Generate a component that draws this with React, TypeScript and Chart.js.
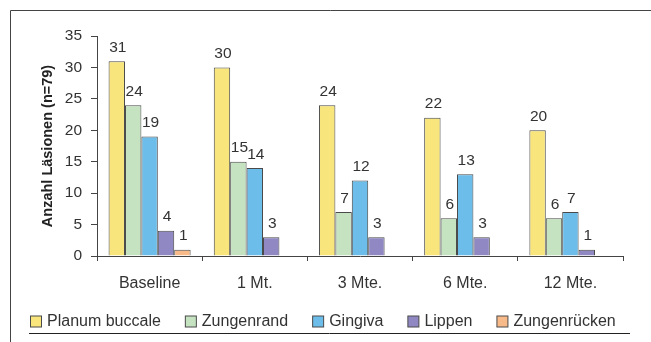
import React, { useEffect, useRef } from "react";
import { Chart, registerables } from "chart.js";

Chart.register(...registerables);

// Lesion counts per follow-up visit
const categories = ["Baseline", "1 Mt.", "3 Mte.", "6 Mte.", "12 Mte."];
const planumBuccale = [31, 30, 24, 22, 20];
const zungenrand = [24, 15, 7, 6, 6];
const gingiva = [19, 14, 12, 13, 7];
const lippen = [4, 3, 3, 3, 1];
const zungenruecken = [1, 0, 0, 0, 0];

const seriesNames = ["Planum buccale", "Zungenrand", "Gingiva", "Lippen", "Zungenrücken"];
const seriesColors = ["#F8E67C", "#C5E3C1", "#6CBDE9", "#9088C3", "#F9BA8A"];

const yMax = 35;
const yStep = 5;
const yTitle = "Anzahl Läsionen (n=79)";

const FONT = "'Liberation Sans', Arial, Helvetica, sans-serif";
const TEXT = "#333";
const LINE = "#444";
const EDGE = "#4a4a4a";

// empty counts get no bar and no label
const toBars = (values: number[]) => values.map((v) => (v === 0 ? null : v));

const framePlugin = {
  id: "frame",
  beforeDraw(chart: any) {
    const { ctx, width, height } = chart;
    ctx.save();
    ctx.fillStyle = "#fff";
    ctx.fillRect(0, 0, width, height);
    ctx.strokeStyle = LINE;
    ctx.lineWidth = 1;
    ctx.beginPath();
    ctx.moveTo(10.5, height);
    ctx.lineTo(10.5, 10.5);
    ctx.lineTo(width, 10.5);
    ctx.stroke();
    ctx.restore();
  },
};

// one-row legend under the axis, with a rule beneath it
const legendRow = {
  id: "legendRow",
  afterDraw(chart: any) {
    const { ctx } = chart;
    const box = 11;
    const textGap = 6;
    const itemGap = 24;
    const centerX = 323;
    const boxTop = 315.5;
    ctx.save();
    ctx.font = `16px ${FONT}`;
    const items = chart.data.datasets.map((ds: any) => ({
      text: ds.label,
      fill: ds.backgroundColor,
      w: ctx.measureText(ds.label).width,
    }));
    const total =
      items.reduce((s: number, it: any) => s + box + textGap + it.w, 0) + itemGap * (items.length - 1);
    let x = Math.round(centerX - total / 2);
    ctx.textBaseline = "middle";
    ctx.textAlign = "left";
    items.forEach((it: any) => {
      ctx.fillStyle = it.fill;
      ctx.fillRect(x + 0.5, boxTop + 0.5, box, box);
      ctx.strokeStyle = EDGE;
      ctx.lineWidth = 1;
      ctx.strokeRect(x + 0.5, boxTop + 0.5, box, box);
      ctx.fillStyle = TEXT;
      ctx.fillText(it.text, x + box + textGap, boxTop + box / 2 + 1);
      x += box + textGap + it.w + itemGap;
    });
    ctx.strokeStyle = "#222";
    ctx.beginPath();
    ctx.moveTo(29, 333.5);
    ctx.lineTo(630, 333.5);
    ctx.stroke();
    ctx.restore();
  },
};

const valueLabels = {
  id: "valueLabels",
  afterDatasetsDraw(chart: any) {
    const { ctx } = chart;
    ctx.save();
    ctx.font = `15.5px ${FONT}`;
    ctx.fillStyle = TEXT;
    ctx.textAlign = "center";
    ctx.textBaseline = "alphabetic";
    chart.data.datasets.forEach((ds: any, i: number) => {
      const meta = chart.getDatasetMeta(i);
      meta.data.forEach((bar: any, j: number) => {
        const v = ds.data[j];
        if (v == null) return;
        ctx.fillText(String(v), bar.x + 1, bar.y - 9.5);
      });
    });
    ctx.restore();
  },
};

export default function App() {
  const canvasRef = useRef<HTMLCanvasElement | null>(null);

  useEffect(() => {
    if (!canvasRef.current) return;
    const series = [planumBuccale, zungenrand, gingiva, lippen, zungenruecken];
    const chart = new Chart(canvasRef.current, {
      type: "bar",
      data: {
        labels: categories,
        datasets: series.map((values, i) => ({
          label: seriesNames[i],
          data: toBars(values),
          backgroundColor: seriesColors[i],
          borderColor: EDGE,
          borderWidth: 1,
          categoryPercentage: 0.78,
          barPercentage: 1,
        })),
      },
      options: {
        responsive: false,
        animation: false,
        devicePixelRatio: 1,
        layout: { padding: { left: 30, right: 28, top: 36, bottom: 50 } },
        plugins: {
          legend: { display: false },
          tooltip: { enabled: false },
        },
        scales: {
          x: {
            grid: { display: true, drawOnChartArea: false, tickLength: 5, color: LINE },
            border: { display: true, color: LINE },
            ticks: { padding: 13, color: TEXT, font: { family: FONT, size: 16 } },
            afterFit(scale: any) {
              scale.height = 36;
            },
          },
          y: {
            min: 0,
            max: yMax,
            ticks: { stepSize: yStep, padding: 9, color: TEXT, font: { family: FONT, size: 15.5 } },
            grid: { display: true, drawOnChartArea: false, tickLength: 6, color: LINE },
            border: { display: true, color: LINE },
            title: {
              display: true,
              text: yTitle,
              color: "#222",
              font: { family: FONT, size: 14.5, weight: "bold" },
              padding: { top: 9, bottom: 0 },
            },
            afterFit(scale: any) {
              scale.width = 67;
            },
          },
        },
      },
      plugins: [framePlugin, valueLabels, legendRow],
    });
    return () => chart.destroy();
  }, []);

  return (
    <div style={{ position: "fixed", left: 0, top: 0, width: 651, height: 342 }}>
      <canvas ref={canvasRef} width={651} height={342} style={{ display: "block" }} />
    </div>
  );
}
